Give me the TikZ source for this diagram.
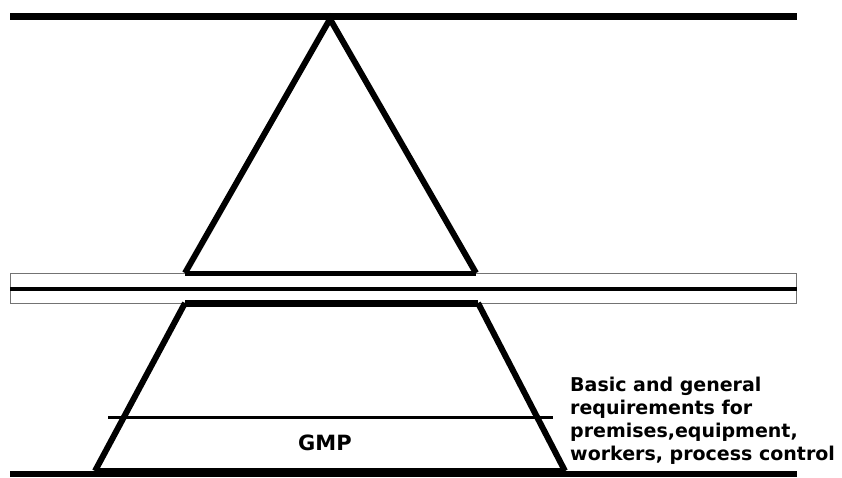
\documentclass[tikz,border=0pt]{standalone}
\usepackage{fontspec}
\setmainfont{DejaVu Sans}
\begin{document}
\begin{tikzpicture}[x=1pt,y=-1pt,
  beam/.style={line width=7.5pt},
  edge/.style={line width=6pt, line join=miter},
  band/.style={draw=black!55, line width=1pt, fill=white},
  label/.style={font=\bfseries\fontsize{19}{23}\selectfont, align=left, inner sep=0pt}]
\useasboundingbox (0,0) rectangle (842,477);

% upper beam
\draw[beam] (10,16.7) -- (796.5,16.7);

% separating band with its centre rail
\draw[band] (10,273.5) rectangle (796.5,303.5);
\draw[line width=4pt] (10,289) -- (796.5,289);

% upper triangle
\coordinate (apex) at (330,19);
\coordinate (tl) at (185,273);
\coordinate (tr) at (476,273);
\draw[edge] (tl) -- (apex) -- (tr);
\draw[line width=5pt] (tl) -- (tr);

% lower trapezoid
\coordinate (ul) at (185,303);
\coordinate (ur) at (478,303);
\coordinate (bl) at (95,471);
\coordinate (br) at (565,471);
\draw[line width=7pt] (ul) -- (ur);
\draw[edge] (ul) -- (bl) (ur) -- (br);
\draw[line width=6pt] (bl) -- (br);

% floor line
\draw[line width=6pt] (10,474) -- (797,474);

% inner division of the trapezoid
\coordinate (dl) at (108,417);
\coordinate (dr) at (553,417);
\draw[line width=3pt] (dl) -- (dr);

\node[font=\bfseries\fontsize{21}{25}\selectfont] (gmp) at (325,443) {GMP};
% the base anchor of a multi-line node sits on its last line
\node[label, anchor=base west] (req) at (570,460)
  {Basic and general\\requirements for\\premises,equipment,\\workers, process control};
\end{tikzpicture}
\end{document}
